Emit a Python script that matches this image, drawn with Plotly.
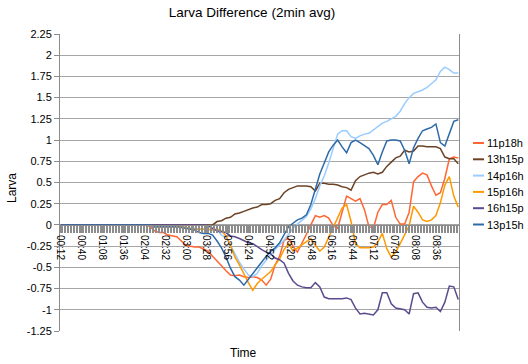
import plotly.graph_objects as go

# ---------------- data ----------------
start_min = 12      # first sample 00:12
step_min = 6        # sampled every 6 minutes from the picture
n_points = 90
times = [f"{(start_min + step_min * i) // 60:02d}:{(start_min + step_min * i) % 60:02d}" for i in range(n_points)]

tick_labels = ["00:12", "00:40", "01:08", "01:36", "02:04", "02:32", "03:00", "03:28", "03:56",
               "04:24", "04:52", "05:20", "05:48", "06:16", "06:44", "07:12", "07:40", "08:08", "08:36"]

y_ticks = [2.25, 2, 1.75, 1.5, 1.25, 1, 0.75, 0.5, 0.25, 0, -0.25, -0.5, -0.75, -1, -1.25]
y_tick_text = ["2.25", "2", "1.75", "1.5", "1.25", "1", "0.75", "0.5", "0.25", "0",
               "-0.25", "-0.5", "-0.75", "-1", "-1.25"]

s_11p18h = [0] * 20 + [
    -0.02, -0.07, -0.09, -0.09, -0.12, -0.13, -0.14, -0.19, -0.24, -0.25,
    -0.26, -0.26, -0.29, -0.31, -0.37, -0.42, -0.48, -0.54, -0.59, -0.60,
    -0.59, -0.61, -0.62, -0.61, -0.62, -0.65, -0.71, -0.64, -0.47, -0.37,
    -0.18, -0.16, -0.25, -0.32, -0.22, -0.11, 0.00, 0.11, 0.09, 0.11,
    0.08, -0.01, -0.04, 0.15, 0.34, 0.31, 0.28, 0.31, 0.18, -0.02,
    -0.04, 0.15, 0.24, 0.24, 0.29, 0.09, 0.01, 0.01, 0.15, 0.51,
    0.57, 0.61, 0.59, 0.46, 0.35, 0.38, 0.55, 0.78, 0.80, 0.79]

s_13h15p = [0] * 35 + [
    0.04, 0.05, 0.08, 0.09, 0.13,
    0.14, 0.16, 0.18, 0.20, 0.21, 0.24, 0.24, 0.25, 0.29, 0.31,
    0.38, 0.42, 0.44, 0.46, 0.46, 0.46, 0.45, 0.40, 0.49, 0.49,
    0.48, 0.48, 0.47, 0.45, 0.44, 0.41, 0.52, 0.57, 0.59, 0.61,
    0.62, 0.60, 0.62, 0.69, 0.74, 0.79, 0.81, 0.88, 0.86, 0.87,
    0.93, 0.93, 0.92, 0.92, 0.92, 0.90, 0.80, 0.78, 0.78, 0.72]

s_14p16h = [0] * 21 + [
    -0.02, -0.02, -0.02, -0.02, -0.02, -0.02, -0.02, -0.03, -0.04,
    -0.04, -0.05, -0.05, -0.06, -0.06, -0.06, -0.12, -0.15, -0.24, -0.34,
    -0.44, -0.52, -0.59, -0.61, -0.57, -0.48, -0.41, -0.35, -0.29, -0.24,
    -0.18, -0.11, -0.04, 0.01, 0.06, 0.10, 0.19, 0.31, 0.46, 0.58,
    0.73, 0.90, 1.07, 1.11, 1.11, 1.04, 1.02, 1.05, 1.07, 1.08,
    1.12, 1.17, 1.20, 1.22, 1.25, 1.28, 1.34, 1.43, 1.50, 1.55,
    1.57, 1.59, 1.62, 1.66, 1.71, 1.81, 1.86, 1.83, 1.79, 1.79]

s_15p16h = [0] * 21 + [
    -0.02, -0.02, -0.02, -0.02, -0.02, -0.02, -0.02, -0.03, -0.04,
    -0.05, -0.05, -0.05, -0.05, -0.06, -0.05, -0.07, -0.13, -0.24, -0.38,
    -0.47, -0.58, -0.68, -0.77, -0.69, -0.64, -0.60, -0.55, -0.47, -0.40,
    -0.29, -0.22, -0.31, -0.27, -0.24, -0.20, -0.16, -0.24, -0.31, -0.26,
    -0.14, -0.02, 0.08, 0.20, 0.24, 0.04, -0.22, -0.27, -0.27, -0.27,
    -0.26, -0.20, -0.10, -0.28, -0.38, -0.32, -0.22, -0.11, -0.01, 0.22,
    0.15, 0.06, 0.04, 0.06, 0.11, 0.26, 0.47, 0.57, 0.34, 0.21]

s_16h15p = [0] * 33 + [
    -0.01, -0.04, -0.07, -0.08, -0.09, -0.13, -0.14,
    -0.16, -0.19, -0.21, -0.22, -0.26, -0.29, -0.32, -0.34, -0.39, -0.41,
    -0.45, -0.57, -0.66, -0.71, -0.73, -0.74, -0.74, -0.68, -0.73, -0.85,
    -0.87, -0.87, -0.87, -0.87, -0.86, -0.88, -0.98, -1.05, -1.04, -1.05,
    -1.06, -1.00, -0.80, -0.80, -0.93, -0.98, -0.99, -1.00, -1.05, -0.81,
    -0.80, -0.91, -0.97, -0.98, -0.97, -1.02, -0.91, -0.72, -0.73, -0.88]

s_13p15h = [0] * 21 + [
    -0.02, -0.02, -0.02, -0.02, -0.02, -0.02, -0.03, -0.04, -0.05,
    -0.06, -0.09, -0.10, -0.10, -0.12, -0.19, -0.27, -0.38, -0.51, -0.61,
    -0.65, -0.71, -0.64, -0.57, -0.51, -0.44, -0.37, -0.31, -0.27, -0.21,
    -0.11, -0.02, 0.02, 0.06, 0.08, 0.12, 0.24, 0.41, 0.60, 0.73,
    0.86, 0.94, 1.00, 0.92, 0.85, 0.97, 1.00, 0.97, 0.94, 0.90,
    0.82, 0.71, 0.86, 0.99, 1.00, 1.00, 0.99, 0.88, 0.72, 0.91,
    1.02, 1.11, 1.13, 1.15, 1.19, 0.97, 0.93, 1.08, 1.22, 1.24]

series_names = ["11p18h", "13h15p", "14p16h", "15p16h", "16h15p", "13p15h"]
series_values = [s_11p18h, s_13h15p, s_14p16h, s_15p16h, s_16h15p, s_13p15h]
series_colors = ["#FF6633", "#6B4226", "#99CCFF", "#FF9900", "#5B4A8E", "#2F6AA8"]

# ---------------- figure ----------------
W, H = 528, 364                      # window size
PL, PR, PT, PB = 60, 459, 34, 331    # plot area in window pixels
FONT = "Liberation Sans, Arial, sans-serif"
GRID = "#A6A6A6"
AXIS = "#8C8C8C"


def dt(hhmm):
    return "2000-01-01 " + hhmm


def px_x(px):
    return (px - PL) / (PR - PL)


def px_y(py):
    return (PB - py) / (PB - PT)


x_dates = [dt(t) for t in times]

fig = go.Figure()
for name, vals, col in zip(series_names, series_values, series_colors):
    fig.add_trace(go.Scatter(x=x_dates, y=vals, name=name, mode="lines",
                             line=dict(color=col, width=1.5), showlegend=False))

y_min, y_max = y_ticks[-1], y_ticks[0]

fig.update_layout(
    width=W, height=H,
    margin=dict(l=PL, r=W - PR, t=PT, b=H - PB, pad=0),
    paper_bgcolor="white", plot_bgcolor="white",
    font=dict(family=FONT, color="black", size=11),
    title=dict(text="Larva Difference (2min avg)", font=dict(size=13.5, family=FONT),
               x=252 / W, xref="container", xanchor="center",
               y=1 - 12 / H, yref="container", yanchor="middle"),
    xaxis=dict(type="date", range=[dt("00:11"), dt("09:07")],
               anchor="free", position=(0 - y_min) / (y_max - y_min),
               showline=True, linecolor=AXIS, linewidth=1,
               showgrid=False, zeroline=False,
               tickmode="array", tickvals=[dt(t) for t in tick_labels], ticktext=tick_labels,
               ticks="outside", ticklen=7, tickcolor=AXIS, tickwidth=1,
               tickangle=90, tickfont=dict(size=10, family=FONT),
               minor=dict(ticks="outside", ticklen=7, tickcolor=AXIS, tickwidth=1,
                          tickmode="linear", tick0=dt("00:11"), dtick=120000, showgrid=False),
               automargin=False, fixedrange=True),
    yaxis=dict(range=[y_min, y_max], tickmode="array", tickvals=y_ticks, ticktext=y_tick_text,
               showgrid=True, gridcolor=GRID, gridwidth=1, zeroline=False,
               showline=True, linecolor=AXIS, linewidth=1, mirror=True,
               ticks="outside", ticklen=5, tickcolor=AXIS,
               tickfont=dict(size=11, family=FONT), automargin=False, fixedrange=True),
)

# axis titles
fig.add_annotation(text="Larva", xref="paper", yref="paper", x=px_x(12), y=px_y(188),
                   textangle=-90, showarrow=False, font=dict(size=12, family=FONT),
                   xanchor="center", yanchor="middle")
fig.add_annotation(text="Time", xref="paper", yref="paper", x=px_x(243), y=px_y(353),
                   showarrow=False, font=dict(size=12, family=FONT),
                   xanchor="center", yanchor="middle")

# legend (right side)
for k, (name, col) in enumerate(zip(series_names, series_colors)):
    row = 143 + 16.3 * k
    fig.add_shape(type="line", xref="paper", yref="paper",
                  x0=px_x(473), x1=px_x(484), y0=px_y(row), y1=px_y(row),
                  line=dict(color=col, width=2))
    fig.add_annotation(text=name, xref="paper", yref="paper", x=px_x(485), y=px_y(row),
                       showarrow=False, xanchor="left", yanchor="middle",
                       font=dict(size=11, family=FONT))

# the page's default body margin would shift the figure by 8 px; remove it
fig.write_html("out.html", config={"displayModeBar": False, "staticPlot": True},
               post_script="document.body.style.margin='0';")
